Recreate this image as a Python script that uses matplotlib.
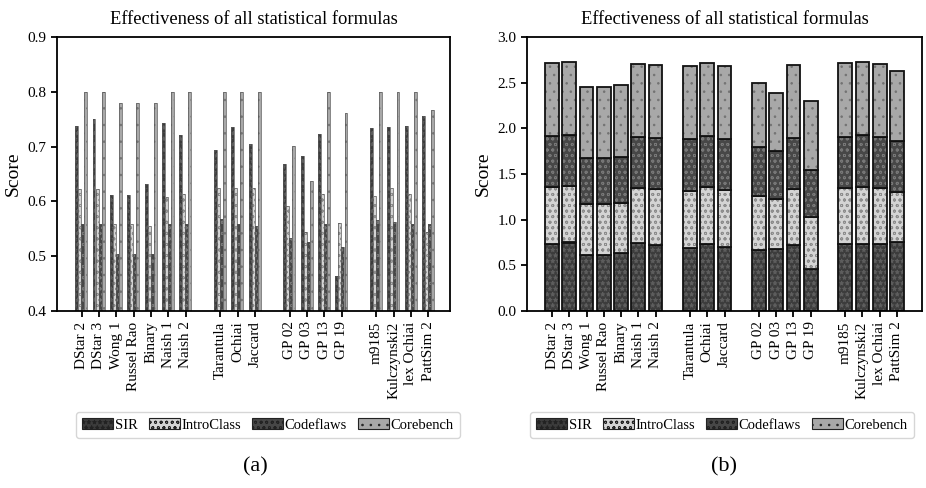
"""Effectiveness of all statistical formulas: grouped (a) and stacked (b) bars."""

import numpy as np
import matplotlib
matplotlib.use("Agg")
import matplotlib.pyplot as plt
from matplotlib.patches import Patch

plt.rcParams["font.family"] = ["Liberation Serif", "DejaVu Serif"]
plt.rcParams["hatch.linewidth"] = 0.6

# ---------------------------------------------------------------------------
# Data
# ---------------------------------------------------------------------------
formulas = [
    "DStar 2", "DStar 3", "Wong 1", "Russel Rao", "Binary", "Naish 1", "Naish 2",
    "Tarantula", "Ochiai", "Jaccard",
    "GP 02", "GP 03", "GP 13", "GP 19",
    "m9185", "Kulczynski2", "lex Ochiai", "PattSim 2",
]
group_sizes = [7, 3, 4, 4]

sir = [0.737, 0.750, 0.611, 0.611, 0.631, 0.743, 0.722,
       0.693, 0.736, 0.705,
       0.669, 0.682, 0.723, 0.464,
       0.734, 0.736, 0.738, 0.756]
introclass = [0.623, 0.623, 0.559, 0.559, 0.556, 0.608, 0.613,
              0.625, 0.625, 0.625,
              0.591, 0.544, 0.613, 0.561,
              0.610, 0.625, 0.613, 0.544]
codeflaws = [0.558, 0.558, 0.504, 0.504, 0.504, 0.558, 0.558,
             0.567, 0.558, 0.556,
             0.534, 0.526, 0.558, 0.516,
             0.566, 0.563, 0.558, 0.558]
corebench = [0.800, 0.800, 0.780, 0.780, 0.780, 0.800, 0.800,
             0.800, 0.800, 0.800,
             0.701, 0.638, 0.800, 0.762,
             0.800, 0.800, 0.800, 0.766]

series_names = ["SIR", "IntroClass", "Codeflaws", "Corebench"]
series_values = [sir, introclass, codeflaws, corebench]

# face colour, hatch, hatch colour
STYLES = [
    ("#3c3c3c", "***", "#5e5e5e"),
    ("#d4d4d4", "ooo", "#8c8c8c"),
    ("#474747", "ooo", "#777777"),
    ("#a8a8a8", "..", "#727272"),
]

# x positions: one empty slot between groups
positions = []
start = 0
for size in group_sizes:
    positions.extend(range(start, start + size))
    start += size + 1
positions = np.array(positions, dtype=float)


def hatched_bar(ax, x, h, width, bottom, style, edge, lw):
    face, hatch, hcol = style
    ax.bar(x, h, width, bottom=bottom, color=face, hatch=hatch,
           edgecolor=hcol, linewidth=0)
    ax.bar(x, h, width, bottom=bottom, fill=False, edgecolor=edge, linewidth=lw)


def style_axes(ax):
    for spine in ax.spines.values():
        spine.set_linewidth(1.3)
    ax.set_xticks(positions)
    ax.set_xticklabels(formulas, rotation=90, fontsize=11)
    ax.tick_params(axis="both", direction="out", width=1.3, length=4, labelsize=11)
    ax.set_ylabel("Score", fontsize=14)
    ax.set_title("Effectiveness of all statistical formulas", fontsize=13.3, pad=9)


def add_legend(fig, x_center):
    handles = [Patch(facecolor=f, hatch=h, edgecolor="#222222", linewidth=0.8,
                     label=n) for (f, h, _), n in zip(STYLES, series_names)]
    fig.legend(handles=handles, loc="center", ncol=4, fontsize=10.5,
               bbox_to_anchor=(x_center, 0.129), handletextpad=0.1,
               columnspacing=0.8, borderpad=0.45, handlelength=2.1)


fig = plt.figure(figsize=(9.26, 4.88), dpi=100)

# ---------------------------------------------------------------------------
# (a) grouped bars
# ---------------------------------------------------------------------------
ax1 = fig.add_axes([57 / 926, 1 - 311 / 488, 393 / 926, 274 / 488])
w = 0.175
for i, (vals, st) in enumerate(zip(series_values, STYLES)):
    hatched_bar(ax1, positions + (i - 1.6) * w, np.array(vals) - 0.4, w * 0.92,
                0.4, st, "#555555", 0.5)
ax1.set_ylim(0.4, 0.9)
ax1.set_yticks(np.arange(0.4, 0.91, 0.1))
ax1.set_xlim(-1.42, 21.25)
style_axes(ax1)

# ---------------------------------------------------------------------------
# (b) stacked bars
# ---------------------------------------------------------------------------
ax2 = fig.add_axes([527 / 926, 1 - 311 / 488, 395 / 926, 274 / 488])
bottom = np.zeros(len(formulas))
for vals, st in zip(series_values, STYLES):
    vals = np.array(vals)
    hatched_bar(ax2, positions, vals, 0.8, bottom, st, "#111111", 1.3)
    bottom += vals
ax2.set_ylim(0, 3.0)
ax2.set_yticks(np.arange(0, 3.01, 0.5))
ax2.set_xlim(-1.45, 21.45)
style_axes(ax2)

add_legend(fig, 268 / 926)
add_legend(fig, 722 / 926)

fig.text(255 / 926, 1 - 467 / 488, "(a)", ha="center", va="center", fontsize=16)
fig.text(724 / 926, 1 - 467 / 488, "(b)", ha="center", va="center", fontsize=16)

fig.savefig("out.png", dpi=100)
